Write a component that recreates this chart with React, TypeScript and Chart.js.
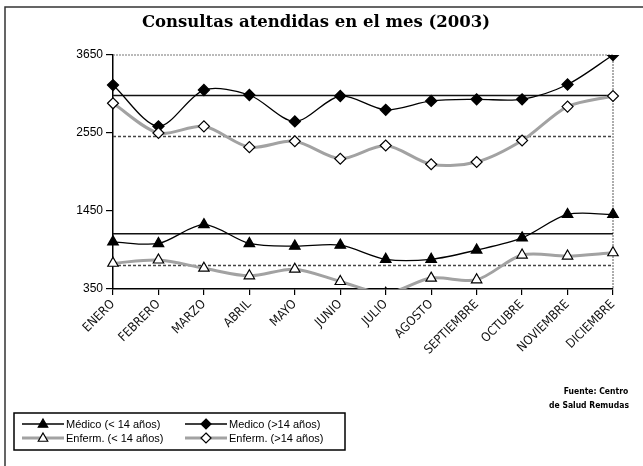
import { useEffect, useRef } from 'react';
import { Chart, registerables } from 'chart.js';

Chart.register(...registerables);

const meses = ['ENERO', 'FEBRERO', 'MARZO', 'ABRIL', 'MAYO', 'JUNIO', 'JULIO', 'AGOSTO', 'SEPTIEMBRE', 'OCTUBRE', 'NOVIEMBRE', 'DICIEMBRE'];
const medicoMenor = [1014, 992, 1257, 992, 954, 968, 769, 769, 899, 1070, 1401, 1401];
const medicoMayor = [3226, 2644, 3156, 3086, 2713, 3072, 2877, 3002, 3025, 3025, 3234, 3650];
const enfermMenor = [713, 759, 643, 536, 629, 456, 290, 504, 480, 829, 815, 861];
const enfermMayor = [2969, 2550, 2644, 2350, 2434, 2187, 2374, 2109, 2141, 2444, 2923, 3072];
// reference (average) lines: Médico >14, Enferm >14, Médico <14, Enferm <14
const lineasReferencia = [3080, 2500, 1130, 680];
const yTicks = [350, 1450, 2550, 3650];

const titulo = 'Consultas atendidas en el mes (2003)';
const fuente = ['Fuente: Centro', 'de Salud Remudas'];
const leyenda = ['Médico (< 14 años)', 'Medico (>14 años)', 'Enferm. (< 14 años)', 'Enferm. (>14 años)'];

const GRAY = '#a2a2a2';

function triangle(ctx: CanvasRenderingContext2D, x: number, y: number, r: number, fill: string) {
  ctx.beginPath();
  ctx.moveTo(x, y - r);
  ctx.lineTo(x + r * 0.95, y + r * 0.65);
  ctx.lineTo(x - r * 0.95, y + r * 0.65);
  ctx.closePath();
  ctx.fillStyle = fill;
  ctx.fill();
  ctx.strokeStyle = '#000';
  ctx.lineWidth = 1.2;
  ctx.stroke();
}
function diamond(ctx: CanvasRenderingContext2D, x: number, y: number, r: number, fill: string) {
  ctx.beginPath();
  ctx.moveTo(x, y - r);
  ctx.lineTo(x + r, y);
  ctx.lineTo(x, y + r);
  ctx.lineTo(x - r, y);
  ctx.closePath();
  ctx.fillStyle = fill;
  ctx.fill();
  ctx.strokeStyle = '#000';
  ctx.lineWidth = 1.2;
  ctx.stroke();
}

const decoPlugin = {
  id: 'deco',
  beforeDatasetsDraw(chart: any) {
    const { ctx, chartArea } = chart;
    const y = chart.scales.y;
    ctx.save();
    ctx.strokeStyle = '#777';
    ctx.lineWidth = 1.2;
    ctx.setLineDash([2, 1]);
    ctx.beginPath();
    ctx.moveTo(chartArea.left, chartArea.top);
    ctx.lineTo(chartArea.right, chartArea.top);
    ctx.moveTo(chartArea.right, chartArea.top);
    ctx.lineTo(chartArea.right, chartArea.bottom);
    ctx.stroke();
    const styles = [
      { dash: [], color: '#111' },
      { dash: [3, 2], color: '#444' },
      { dash: [], color: '#111' },
      { dash: [3, 2], color: '#444' },
    ];
    lineasReferencia.forEach((v, i) => {
      const py = y.getPixelForValue(v);
      ctx.setLineDash(styles[i].dash);
      ctx.strokeStyle = styles[i].color;
      ctx.lineWidth = 1.5;
      ctx.beginPath();
      ctx.moveTo(chartArea.left, py);
      ctx.lineTo(chartArea.right, py);
      ctx.stroke();
    });
    ctx.restore();
  },
  afterDraw(chart: any) {
    const { ctx } = chart;
    ctx.save();
    ctx.strokeStyle = '#333';
    ctx.lineWidth = 1.5;
    ctx.beginPath();
    ctx.moveTo(5, 466);
    ctx.lineTo(5, 7);
    ctx.lineTo(643, 7);
    ctx.stroke();
    ctx.fillStyle = '#000';
    ctx.font = 'bold 16.5px "DejaVu Serif"';
    ctx.textAlign = 'center';
    ctx.textBaseline = 'middle';
    ctx.fillText(titulo, 316, 23);
    ctx.font = 'bold 8.5px "DejaVu Sans Condensed", "DejaVu Sans"';
    ctx.fillText(fuente[0], 596, 392);
    ctx.fillText(fuente[1], 589, 406);
    ctx.lineWidth = 1.5;
    ctx.strokeStyle = '#000';
    ctx.strokeRect(14, 413, 331, 37);
    const items = [
      { x: 22, y: 424, gray: false, tri: true },
      { x: 185, y: 424, gray: false, tri: false },
      { x: 22, y: 438, gray: true, tri: true },
      { x: 185, y: 438, gray: true, tri: false },
    ];
    ctx.font = '11px "Liberation Sans"';
    ctx.textAlign = 'left';
    items.forEach((it, i) => {
      ctx.beginPath();
      ctx.strokeStyle = it.gray ? GRAY : '#000';
      ctx.lineWidth = it.gray ? 3 : 1.3;
      ctx.moveTo(it.x, it.y);
      ctx.lineTo(it.x + 42, it.y);
      ctx.stroke();
      const cx = it.x + 21;
      if (it.tri) triangle(ctx, cx, it.y, 5, it.gray ? '#fff' : '#000');
      else diamond(ctx, cx, it.y, 5, it.gray ? '#fff' : '#000');
      ctx.fillStyle = '#000';
      ctx.fillText(leyenda[i], it.x + 44, it.y + 1);
    });
    ctx.restore();
  },
};

export default function App() {
  const ref = useRef<HTMLCanvasElement | null>(null);
  useEffect(() => {
    if (!ref.current) return;
    const chart = new Chart(ref.current, {
      type: 'line',
      data: {
        labels: meses,
        datasets: [
          {
            label: leyenda[2],
            data: enfermMenor,
            borderColor: GRAY,
            borderWidth: 3,
            tension: 0.3,
            clip: { left: 12, right: 12, top: 12, bottom: 0 },
            pointStyle: 'triangle',
            pointRadius: 6,
            pointBackgroundColor: '#fff',
            pointBorderColor: '#000',
            pointBorderWidth: 1.2,
          },
          {
            label: leyenda[3],
            data: enfermMayor,
            borderColor: GRAY,
            borderWidth: 3,
            tension: 0.3,
            pointStyle: 'rectRot',
            pointRadius: 5.5,
            pointBackgroundColor: '#fff',
            pointBorderColor: '#000',
            pointBorderWidth: 1.2,
          },
          {
            label: leyenda[0],
            data: medicoMenor,
            borderColor: '#000',
            borderWidth: 1.3,
            tension: 0.3,
            pointStyle: 'triangle',
            pointRadius: 6,
            pointBackgroundColor: '#000',
            pointBorderColor: '#000',
          },
          {
            label: leyenda[1],
            data: medicoMayor,
            borderColor: '#000',
            borderWidth: 1.3,
            tension: 0.3,
            pointStyle: 'rectRot',
            pointRadius: 5.5,
            pointBackgroundColor: '#000',
            pointBorderColor: '#000',
          },
        ],
      },
      options: {
        animation: false,
        responsive: false,
        layout: { padding: { top: 55, right: 30, left: 0, bottom: 0 } },
        plugins: {
          legend: { display: false },
          title: { display: false },
          tooltip: { enabled: false },
        },
        scales: {
          x: {
            offset: false,
            grid: { drawOnChartArea: false, drawTicks: true, tickLength: 6, color: '#000', lineWidth: 1.2 },
            border: { display: true, color: '#000', width: 1.5 },
            ticks: {
              maxRotation: 45,
              minRotation: 45,
              autoSkip: false,
              color: '#111',
              padding: 2,
              font: { family: '"DejaVu Sans Condensed", "DejaVu Sans"', size: 12.5 },
            },
            afterFit(scale: any) {
              scale.height = 177;
            },
          },
          y: {
            min: 350,
            max: 3650,
            grid: { drawOnChartArea: false, drawTicks: true, tickLength: 7, color: '#000', lineWidth: 1.2 },
            border: { display: true, color: '#000', width: 1.5 },
            ticks: {
              color: '#000',
              padding: 3,
              font: { family: '"Liberation Sans"', size: 12 },
              callback: (v: any) => String(v),
            },
            afterBuildTicks(scale: any) {
              scale.ticks = yTicks.map((v) => ({ value: v }));
            },
            afterFit(scale: any) {
              scale.width = 113;
            },
          },
        },
      },
      plugins: [decoPlugin],
    });
    return () => chart.destroy();
  }, []);
  return (
    <div style={{ position: 'fixed', left: 0, top: 0, width: 643, height: 466, background: '#fff' }}>
      <canvas ref={ref} width={643} height={466} />
    </div>
  );
}
